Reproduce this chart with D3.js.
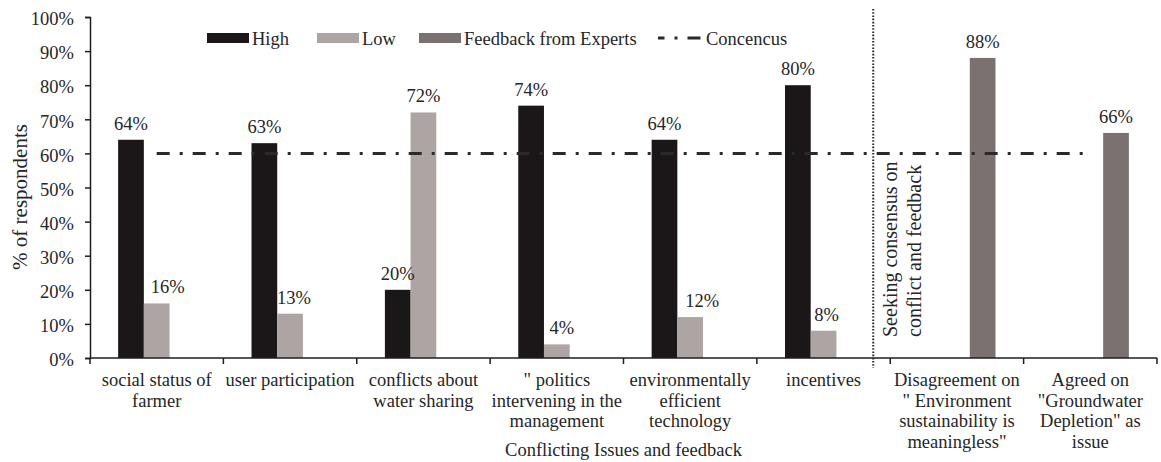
<!DOCTYPE html>
<html>
<head>
<meta charset="utf-8">
<script src="https://cdn.jsdelivr.net/npm/d3@7"></script>
<style>
  html, body { margin: 0; padding: 0; background: #fff; }
  svg { display: block; font-family: "Liberation Serif", "Times New Roman", serif; }
  text { fill: #262626; }
</style>
</head>
<body>
<svg id="chart" width="1161" height="462"></svg>
<script>
// Survey categories (each entry is the wrapped axis label)
const categories = [
  ["social status of", "farmer"],
  ["user participation"],
  ["conflicts about", "water sharing"],
  ["\" politics", "intervening in the", "management"],
  ["environmentally", "efficient", "technology"],
  ["incentives"],
  ["Disagreement on", "\" Environment", "sustainability is", "meaningless\""],
  ["Agreed on", "\"Groundwater", "Depletion\" as", "issue"]
];
const seriesNames = ["High", "Low", "Feedback from Experts"];
// Percent of respondents per category (null = no bar)
const highValues     = [64, 63, 20, 74, 64, 80, null, null];
const lowValues      = [16, 13, 72, 4, 12, 8, null, null];
const feedbackValues = [null, null, null, null, null, null, 88, 66];
const consensusValues = [60, 60, 60, 60, 60, 60, 60, 60];
const yTicks = [0, 10, 20, 30, 40, 50, 60, 70, 80, 90, 100];
const consensusName = "Concencus";
const yTitle = "% of respondents";
const xTitle = "Conflicting Issues and feedback";
const sectionNote = ["Seeking consensus on", "conflict and feedback"];

const colors = { "High": "#1b1617", "Low": "#ada4a4", "Feedback from Experts": "#7a7170" };
const ink = "#1e1e1e";

const svg = d3.select("#chart");
const margin = { top: 17, right: 4, bottom: 104, left: 90 };
const W = 1161, H = 462;
const iw = W - margin.left - margin.right;
const ih = H - margin.top - margin.bottom;
const g = svg.append("g").attr("transform", `translate(${margin.left},${margin.top})`);

const keys = categories.map((c, i) => i);
const x0 = d3.scaleBand().domain(keys).range([0, iw]).paddingInner(0).paddingOuter(0);
// Excel-style gap width (~219%) between clusters of three series slots
const x1 = d3.scaleBand().domain(seriesNames).range([0, x0.bandwidth()])
  .paddingInner(0).paddingOuter(1.095);
const y = d3.scaleLinear().domain([0, 100]).range([ih, 0]);

const seriesValues = { "High": highValues, "Low": lowValues, "Feedback from Experts": feedbackValues };
const fmt = v => Math.round(v) + "%";

// Bars
const barData = [];
seriesNames.forEach(s => {
  seriesValues[s].forEach((v, i) => {
    if (v !== null) barData.push({ s, i, v });
  });
});

g.selectAll("rect.bar").data(barData).join("rect")
  .attr("class", "bar")
  .attr("x", d => x0(d.i) + x1(d.s))
  .attr("y", d => y(d.v))
  .attr("width", x1.bandwidth())
  .attr("height", d => y(0) - y(d.v))
  .attr("fill", d => colors[d.s]);

// Value labels; the short "Low" labels sit slightly right of their bars
const lowLabelShift = [11, 4, 0, 5, 12, 3, 0, 0];
g.selectAll("text.val").data(barData).join("text")
  .attr("class", "val")
  .attr("x", d => x0(d.i) + x1(d.s) + x1.bandwidth() / 2 + (d.s === "Low" ? lowLabelShift[d.i] : 0))
  .attr("y", d => y(d.v) - 10)
  .attr("text-anchor", "middle")
  .style("font-size", "18.5px")
  .text(d => fmt(d.v));

// Consensus line across category centres
const line = d3.line()
  .x((d, i) => x0(i) + x0.bandwidth() / 2)
  .y(d => y(d));
g.append("path")
  .datum(consensusValues)
  .attr("d", line)
  .attr("fill", "none")
  .attr("stroke", "#2a2a2a")
  .attr("stroke-width", 3)
  .attr("stroke-dasharray", "13,10,3,10");

// Y axis
const yAxis = d3.axisLeft(y).tickValues(yTicks).tickSize(5).tickPadding(11)
  .tickFormat(d => d + "%");
const ya = g.append("g").call(yAxis);
ya.select(".domain").attr("stroke", ink).attr("stroke-width", 1.5);
ya.selectAll(".tick line").attr("stroke", ink).attr("stroke-width", 1.5);
ya.selectAll(".tick text").style("font-size", "18.5px").style("font-family", "Liberation Serif")
  .attr("fill", "#262626").attr("dy", "0.42em");

// X axis baseline and boundary ticks
g.append("line")
  .attr("x1", 0).attr("x2", iw).attr("y1", ih).attr("y2", ih)
  .attr("stroke", ink).attr("stroke-width", 1.5);
const bounds = keys.map(k => x0(k)).concat([x0(keys[keys.length - 1]) + x0.bandwidth()]);
g.selectAll("line.xtick").data(bounds).join("line")
  .attr("class", "xtick")
  .attr("x1", d => d).attr("x2", d => d)
  .attr("y1", ih).attr("y2", ih + 6)
  .attr("stroke", ink).attr("stroke-width", 1.5);

// Category labels
const catLabels = g.selectAll("text.cat").data(categories).join("text")
  .attr("class", "cat")
  .attr("text-anchor", "middle")
  .style("font-size", "18.5px")
  .attr("transform", (d, i) => `translate(${x0(i) + x0.bandwidth() / 2},${ih + 28})`);
catLabels.selectAll("tspan").data(d => d).join("tspan")
  .attr("x", 0)
  .attr("y", (d, j) => j * 20.7)
  .text(d => d);

// Axis titles
g.append("text")
  .attr("x", iw / 2).attr("y", ih + 98)
  .attr("text-anchor", "middle")
  .style("font-size", "18.5px")
  .text(xTitle);

svg.append("text")
  .attr("transform", `translate(27,197) rotate(-90)`)
  .attr("text-anchor", "middle")
  .style("font-size", "21px")
  .text(yTitle);

// Divider between survey issues and expert feedback
const divX = x0(6) - 17;
g.append("line")
  .attr("x1", divX).attr("x2", divX)
  .attr("y1", -8).attr("y2", ih + 10)
  .attr("stroke", "#2a2a2a").attr("stroke-width", 2)
  .attr("stroke-dasharray", "1.6,1.6");

const note = g.append("text")
  .attr("transform", `translate(${divX + 24},${ih - 21}) rotate(-90)`)
  .style("font-size", "20px");
note.selectAll("tspan").data(sectionNote).join("tspan")
  .attr("x", 0)
  .attr("y", (d, j) => j * 24)
  .text(d => d);

// Legend
const legend = svg.append("g");
const legendItems = [
  { name: "High", x: 207 },
  { name: "Low", x: 317 },
  { name: "Feedback from Experts", x: 419 }
];
legendItems.forEach(it => {
  legend.append("rect")
    .attr("x", it.x).attr("y", 33).attr("width", 42).attr("height", 10)
    .attr("fill", colors[it.name]);
  legend.append("text")
    .attr("x", it.x + 45).attr("y", 44.5)
    .style("font-size", "18.5px")
    .text(it.name);
});
legend.append("line")
  .attr("x1", 658).attr("x2", 704).attr("y1", 38).attr("y2", 38)
  .attr("stroke", "#2a2a2a").attr("stroke-width", 3)
  .attr("stroke-dasharray", "13,10,3,10").attr("stroke-dashoffset", 6.5);
legend.append("text")
  .attr("x", 706).attr("y", 44.5)
  .style("font-size", "18.5px")
  .text(consensusName);
</script>
</body>
</html>
